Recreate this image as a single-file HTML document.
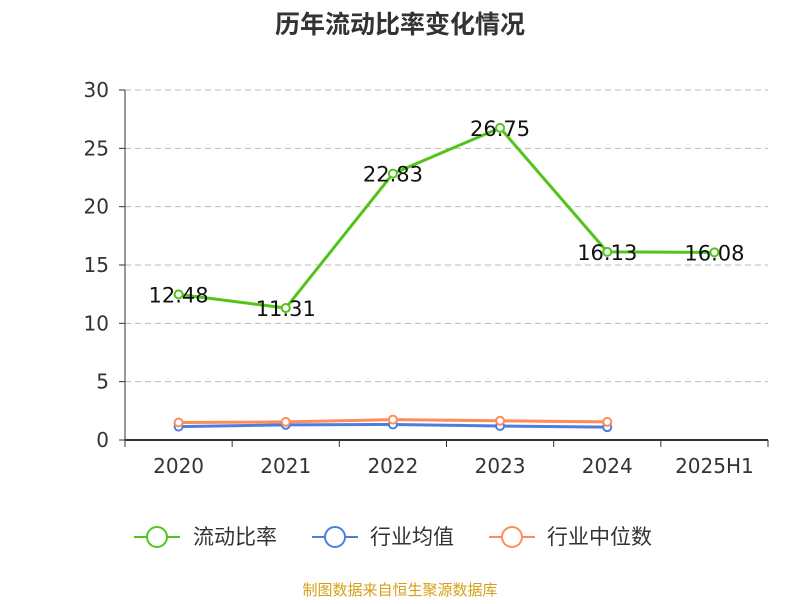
<!DOCTYPE html>
<html><head><meta charset="utf-8"><style>
body{margin:0;background:#fff;width:800px;height:600px;overflow:hidden;font-family:"DejaVu Sans","Noto Sans CJK SC",sans-serif}
</style></head><body>
<svg id="c" width="800" height="600" xmlns="http://www.w3.org/2000/svg" font-family="DejaVu Sans,Noto Sans CJK SC,sans-serif">
<text x="400" y="33" text-anchor="middle" font-size="25" font-weight="bold" fill="#333" font-family="Noto Sans CJK SC,sans-serif">历年流动比率变化情况</text>
<g id="grid"></g><g id="axes"></g><g id="series"></g>
<g font-size="21" fill="#333" font-family="Noto Sans CJK SC,sans-serif">
<g><line x1="134" y1="537" x2="180" y2="537" stroke="#52c41a" stroke-width="2"/><circle cx="157" cy="537" r="10" fill="#fff" stroke="#52c41a" stroke-width="2"/><text x="193" y="544">流动比率</text></g>
<g><line x1="312" y1="537" x2="358" y2="537" stroke="#4a7fe0" stroke-width="2"/><circle cx="335" cy="537" r="10" fill="#fff" stroke="#4a7fe0" stroke-width="2"/><text x="370" y="544">行业均值</text></g>
<g><line x1="489" y1="537" x2="535" y2="537" stroke="#ff8c5a" stroke-width="2"/><circle cx="512" cy="537" r="10" fill="#fff" stroke="#ff8c5a" stroke-width="2"/><text x="547" y="544">行业中位数</text></g>
</g>
<text x="400" y="595" text-anchor="middle" font-size="15" fill="#d4a017" font-family="Noto Sans CJK SC,sans-serif">制图数据来自恒生聚源数据库</text>
</svg>
<script>
const categories=["2020","2021","2022","2023","2024","2025H1"];
const ratio=[12.48,11.31,22.83,26.75,16.13,16.08];
const indMean=[1.15,1.3,1.33,1.2,1.1];
const indMedian=[1.5,1.55,1.75,1.65,1.55];
const yTicks=[0,5,10,15,20,25,30];
const NS="http://www.w3.org/2000/svg";
const x0=125,x1=768,y0=440,y1=90,yMax=30;
const bw=(x1-x0)/categories.length;
const X=i=>x0+bw*(i+0.5);
const Y=v=>y0-(v/yMax)*(y0-y1);
function mk(t,a,p){const e=document.createElementNS(NS,t);for(const k in a)e.setAttribute(k,a[k]);p.appendChild(e);return e;}
const grid=document.getElementById('grid'),axes=document.getElementById('axes'),ser=document.getElementById('series');
yTicks.forEach(v=>{
 if(v>0){const g=mk('line',{x1:x0,x2:x1,y1:Y(v),y2:Y(v),stroke:'#bbb','stroke-dasharray':'6,4'},grid);
 
 }
 const t=mk('line',{x1:x0-6,x2:x0,y1:Y(v),y2:Y(v),stroke:'#333'},axes);
 
 
 const l=mk('text',{x:x0-16,y:Y(v)+7,'text-anchor':'end','font-size':20,fill:'#333'},axes);l.textContent=v;
 
 
});
const ya=mk('line',{x1:x0,x2:x0,y1:y1,y2:y0,stroke:'#333'},axes);


const xa=mk('line',{x1:x0,x2:x1,y1:y0,y2:y0,stroke:'#333','stroke-width':2},axes);


for(let i=0;i<=categories.length;i++){const t=mk('line',{x1:x0+bw*i,x2:x0+bw*i,y1:y0,y2:y0+7,stroke:'#333'},axes);
 
 }
categories.forEach((c,i)=>{const l=mk('text',{x:X(i),y:y0+33,'text-anchor':'middle','font-size':20,fill:'#333'},axes);l.textContent=c;
 
 });
function line(vals,color,name,labels){
 const p=mk('polyline',{points:vals.map((v,i)=>X(i)+','+Y(v)).join(' '),fill:'none',stroke:color,'stroke-width':3},ser);
 
 
 vals.forEach((v,i)=>{const c=mk('circle',{cx:X(i),cy:Y(v),r:4,fill:'#fff',stroke:color,'stroke-width':2},ser);
  
  
  if(labels){const t=mk('text',{x:X(i),y:Y(v)+8,'text-anchor':'middle','font-size':21,fill:'#111'},ser);t.textContent=v.toFixed(2);
  
  }
 });
}
line(indMean,'#4a7fe0','industry-mean',false);
line(indMedian,'#ff8c5a','industry-median',false);
line(ratio,'#52c41a','current-ratio',true);
</script>
</body></html>
